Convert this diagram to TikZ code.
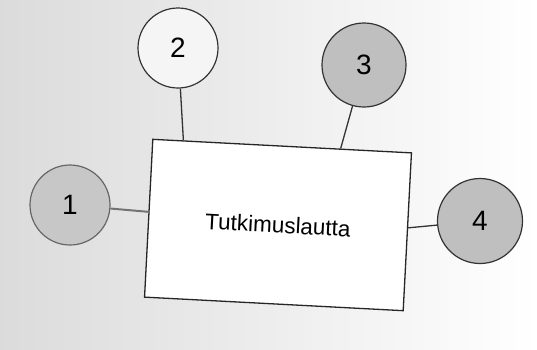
\documentclass[tikz,border=0pt]{standalone}
\usepackage{fontspec}
\setmainfont{Liberation Sans}
\usetikzlibrary{calc}
\begin{document}
\begin{tikzpicture}[x=1pt,y=-1pt,
  num/.style={circle,draw=black!80,line width=1.2pt,minimum size=80pt,inner sep=0pt,font=\fontsize{28}{30}\selectfont},
  conn/.style={draw=black!80,line width=1.3pt},
  boxnode/.style={rectangle,draw=black!85,line width=1.3pt,fill=white,minimum width=259pt,minimum height=158pt,inner sep=0pt,rotate=-3,font=\fontsize{22.5}{24}\selectfont}]
\shade[left color=black!14,right color=white] (0,0) rectangle (537,349);
\useasboundingbox (0,0) rectangle (537,349);
\node[boxnode] (box) at (278,225) {\raisebox{-6pt}{Tutkimuslautta}};
\node[num,fill=black!22,draw=black!60] (c1) at (70,205) {1};
\node[num,fill=black!4] (c2) at (178,48) {2};
\node[num,fill=black!25,minimum size=84pt] (c3) at (364,65) {3};
\node[num,fill=black!25,minimum size=85pt] (c4) at (480,221) {4};
\coordinate (p1) at ($(box.north west)!0.46!(box.south west)$);
\coordinate (p2) at ($(box.north west)!0.12!(box.north east)$);
\coordinate (p3) at ($(box.north west)!0.725!(box.north east)$);
\coordinate (p4) at ($(box.north east)!0.475!(box.south east)$);
\draw[conn,draw=black!55,line width=2pt] (c1) -- (p1);
\draw[conn] (c2) -- (p2);
\draw[conn] (c3) -- (p3);
\draw[conn] (c4) -- (p4);
\end{tikzpicture}
\end{document}
